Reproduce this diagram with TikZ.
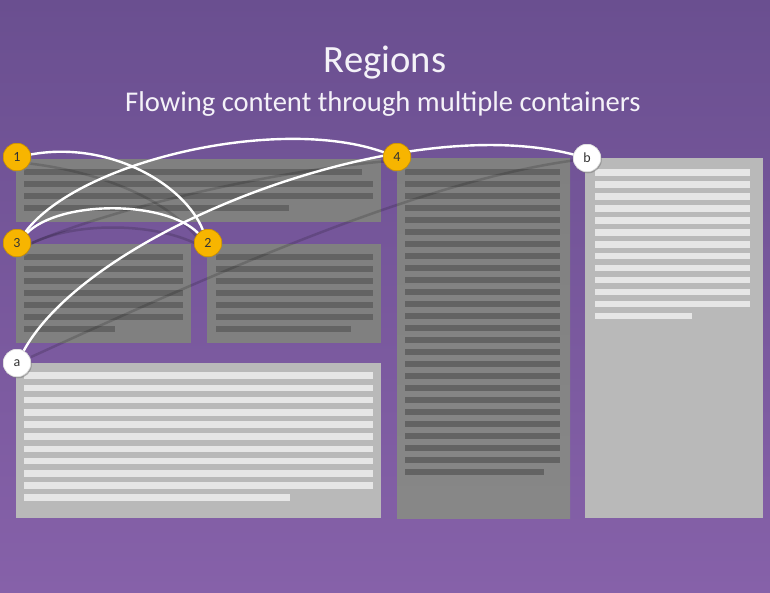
\documentclass[tikz,border=0pt]{standalone}
\usepackage{fontspec}
\setmainfont{Carlito}
\usetikzlibrary{shadows}
\definecolor{bgtop}{HTML}{6A4F90}
\definecolor{bgbot}{HTML}{8661A9}
\definecolor{darkbox}{HTML}{808080}
\definecolor{darkline}{HTML}{636363}
\definecolor{lightbox}{HTML}{B9B9B9}
\definecolor{lightline}{HTML}{E6E6E6}
\definecolor{flowyellow}{HTML}{F7B500}
\definecolor{flowedge}{HTML}{C98F00}
\definecolor{marktext}{HTML}{333333}
\definecolor{titlecol}{HTML}{F4F2F8}
\begin{document}
\begin{tikzpicture}[x=1pt,y=-1pt,
  darkregion/.style={fill=darkbox},
  lightregion/.style={fill=lightbox},
  dline/.style={fill=darkline},
  lline/.style={fill=lightline},
  flowmark/.style={circle, minimum size=27.5pt, inner sep=0pt, font=\fontsize{14}{14}\selectfont, text=marktext,
     drop shadow={shadow xshift=1pt, shadow yshift=-1.5pt, opacity=0.35}},
  ymark/.style={flowmark, fill=flowyellow, draw=flowedge, line width=0.5pt},
  wmark/.style={flowmark, fill=white, draw=black!15, line width=0.5pt},
  flow/.style={draw=white, line width=2.4pt},
  flowshadow/.style={draw=black, line width=2.5pt, opacity=0.16},
]
\useasboundingbox (0,0) rectangle (770,592);
\shade[top color=bgtop, bottom color=bgbot] (0,0) rectangle (770,592);

% titles
\node[anchor=base, text=titlecol, font=\fontsize{38.6}{40}\selectfont, inner sep=0pt] (title) at (385,72) {Regions};
\node[anchor=base, text=titlecol, font=\fontsize{28.6}{30}\selectfont, inner sep=0pt] (subtitle) at (383,111) {Flowing content through multiple containers};

% regions
\fill[darkregion] (16,159) rectangle (381,222);
\fill[darkregion] (16,244) rectangle (191,343);
\fill[darkregion] (207,244) rectangle (381,343);
\fill[lightregion] (16,363) rectangle (381,518);
\shade[top color=darkbox, bottom color=black!47!white] (397,158) rectangle (570,518);
\fill[lightregion] (585,158) rectangle (763,518);

% lines region A
\foreach \k/\xe in {0/362,1/373,2/373,3/289}
  \fill[dline] (24,{168.5+12*\k}) rectangle (\xe,{175+12*\k});
% lines region B and C
\foreach \k in {0,...,5}{
  \fill[dline] (24,{253.5+12*\k}) rectangle (183,{260+12*\k});
  \fill[dline] (216,{253.5+12*\k}) rectangle (373,{260+12*\k});
}
\fill[dline] (24,325.5) rectangle (115,332);
\fill[dline] (216,325.5) rectangle (351,332);
% lines region D
\foreach \k in {0,...,9}
  \fill[lline] (24,{372.3+12.2*\k}) rectangle (373,{379+12.2*\k});
\fill[lline] (24,494.3) rectangle (290,501);
% lines region E
\foreach \k in {0,...,24}
  \fill[dline] (405,{168.5+12*\k}) rectangle (560,{175+12*\k});
\fill[dline] (405,468.5) rectangle (544,475);
% lines region F
\foreach \k in {0,...,11}
  \fill[lline] (595,{169+11.97*\k}) rectangle (750,{175.7+11.97*\k});
\fill[lline] (595,312.7) rectangle (692,319.3);

% marker positions
\path (17,157) coordinate (p1) (208,243) coordinate (p2) (17,243) coordinate (p3)
      (397,157) coordinate (p4) (17,363) coordinate (pa) (587,158) coordinate (pb);

% shadows of flows
\draw[flowshadow] (p1) ++(8,6) .. controls (90,170) and (170,195) .. ([shift={(-2,6)}]p2);
\draw[flowshadow] (p3) ++(8,4) .. controls (70,220) and (160,222) .. ([shift={(-6,4)}]p2);
\draw[flowshadow] (p3) ++(10,2) .. controls (120,205) and (280,170) .. ([shift={(-8,4)}]p4);
\draw[flowshadow] (pa) ++(14,-6) .. controls (200,280) and (420,180) .. ([shift={(-10,2)}]pb);

% markers
\node[ymark] (m1) at (p1) {1};
\node[ymark] (m2) at (p2) {2};
\node[ymark] (m3) at (p3) {3};
\node[ymark] (m4) at (p4) {4};
\node[wmark] (ma) at (pa) {a};
\node[wmark] (mb) at (pb) {b};

% flows
\draw[flow] (m1) .. controls (110,140) and (185,185) .. (m2);
\draw[flow] (m3) .. controls (60,200) and (165,200) .. (m2);
\draw[flow] (m3) .. controls (80,160) and (280,115) .. (m4);
\draw[flow] (ma) .. controls (90,230) and (400,110) .. (mb);

% markers on top
\node[ymark] at (p1) {1};
\node[ymark] at (p2) {2};
\node[ymark] at (p3) {3};
\node[ymark] at (p4) {4};
\node[wmark] at (pa) {a};
\node[wmark] at (pb) {b};
\end{tikzpicture}
\end{document}
